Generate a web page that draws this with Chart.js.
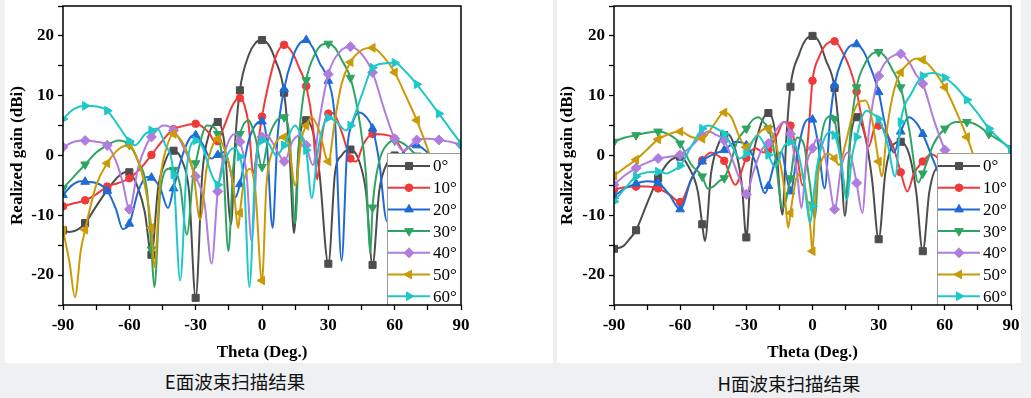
<!DOCTYPE html>
<html>
<head>
<meta charset="utf-8">
<script src="https://cdn.jsdelivr.net/npm/chart.js@4.4.1/dist/chart.umd.min.js"></script>
<style>
  html, body { margin: 0; padding: 0; }
  body { width: 1031px; height: 398px; background: #eef0f2; position: relative; overflow: hidden; }
  canvas { position: absolute; top: 0; background: #fff; }
  #cE { left: 5px; }
  #cH { left: 557px; }
  .cap { position: absolute; font-family: "Noto Sans CJK SC"; font-size: 18.5px; line-height: 22px; color: #111; white-space: nowrap; transform: translateX(-50%); }
</style>
</head>
<body>
<canvas id="cE" width="548" height="363"></canvas>
<canvas id="cH" width="464" height="363"></canvas>
<div class="cap" style="left:235px;top:370px">E面波束扫描结果</div>
<div class="cap" style="left:789px;top:372px">H面波束扫描结果</div>
<script>
// series labels / look
const seriesNames = ['0°', '10°', '20°', '30°', '40°', '50°', '60°'];
const seriesColors = ['#4d4d4d', '#f03a3a', '#1f6bd6', '#2fa462', '#b07ddf', '#cc9a06', '#1ec8c8'];
const markerStyles = ['rect', 'circle', 'triangle', 'triangle', 'rectRot', 'triangle', 'triangle'];
const markerRotations = [0, 0, 0, 180, 0, 270, 90];
const markerSizes = [5, 3.8, 5, 5, 5, 5, 5];

// E-plane, [theta, gain dBi]
const eGain0 = [[-90,-12.5],[-87,-12.8],[-83,-12.3],[-80,-11.3],[-75,-8.5],[-70,-5.8],[-65,-3.5],[-61,-2.7],[-60,-2.8],[-56,-5.5],[-53,-9.5],[-50,-16.6],[-47,-5.5],[-44,-1.2],[-41,0.8],[-40,0.8],[-36,-1],[-33,-6],[-30,-23.8],[-27,-3],[-24,3.5],[-20,5.6],[-17,2],[-14,-11.5],[-12,3],[-10,10.9],[-6,16.8],[-3,18.8],[0,19.3],[3,18.5],[6,16],[10,10.5],[12.5,0],[14.5,-13],[16.5,1],[20,5.9],[23,4],[26,-3],[30,-18.1],[33,-3],[36,0],[40,1.0],[44,-1],[47,-6],[50,-18.3],[53,-6],[57,-1],[60,0],[65,-3],[70,-10],[75,-3],[80,-1.5],[85,-3],[90,-4]];
const eGain10 = [[-90,-8.5],[-85,-8],[-80,-7.5],[-75,-6.5],[-70,-5.2],[-65,-4.6],[-60,-3.8],[-55,-2.2],[-50,0.1],[-45,2.5],[-40,4.4],[-35,5.0],[-30,5.3],[-24,3.8],[-21,2.2],[-20,2.4],[-17,5],[-13,8.6],[-10,9.6],[-8,8.5],[-6,5],[-4,-3],[-2,1.5],[0,6.5],[3,12],[6,16.3],[10,18.5],[14,17],[17,14.5],[20,11.6],[23,5],[25,-4],[27,3],[30,7.0],[32,7.1],[36,4],[40,-0.5],[42.5,-1],[46,2],[50,3.6],[55,3.5],[60,2.8],[65,0],[70,-2],[80,-1],[90,-2]];
const eGain20 = [[-90,-6.6],[-86,-5],[-82,-4.3],[-80,-4.4],[-75,-4.6],[-70,-5.9],[-66,-9],[-63,-12.3],[-60,-11.4],[-56,-6],[-52,-3.6],[-50,-3.7],[-46,-5.5],[-42.5,-8.8],[-40,-5.5],[-36,0],[-32,3.2],[-30,3.4],[-27,2],[-23,-0.5],[-20,0.1],[-17,0.6],[-14,-3],[-12,-7],[-10,-4.8],[-6,2.5],[-2,5.5],[0,5.7],[2,3],[4.8,-12.1],[7,3],[10,11.1],[14,16.5],[17,18.7],[20,19.3],[23,18],[26,15.5],[30,12.5],[33,6],[36,-17.6],[38.5,1],[41,5.5],[44,7.2],[47,6.5],[50,4.5],[53,-1],[56.5,-11],[60,-3],[65,1],[70,1.7],[75,0.5],[80,-1],[90,-3]];
const eGain30 = [[-90,-5.5],[-85,-3.5],[-80,-1.5],[-75,0.5],[-70,1.7],[-65,2.5],[-60,1.8],[-56,-1],[-52,-6],[-50,-15.7],[-48.7,-22],[-46,-6],[-42,-2.2],[-40,-2.4],[-37,-5],[-34,-13.2],[-31,-3],[-30,-1.3],[-27,3.5],[-25,5.0],[-22,4.8],[-20,3.6],[-17.5,-2],[-15.2,-16],[-13,-2],[-10,3.6],[-6.2,5.9],[-3,3],[0,-1.9],[3,3],[7,6],[10,6.4],[12.5,3],[15,-11.3],[17,4],[20,12.6],[24,17],[27,18.5],[30,18.7],[33,18],[36,16],[40,13.0],[44,6],[47,-3],[49,-16.2],[50,-8.7],[53,-1],[57,2],[60,2.5],[64,2],[70,0],[80,-3],[90,-5]];
const eGain40 = [[-90,1.4],[-85,2.3],[-80,2.5],[-75,2.3],[-70,1.7],[-66,-1],[-63,-4.5],[-60,-9],[-56,-2],[-52,2],[-50,3.1],[-46,4.8],[-44,5.0],[-40,4.2],[-35,1],[-30,-3.5],[-26,-8],[-22.8,-18.1],[-20,-6],[-16,1.5],[-12.2,3.6],[-10,2.3],[-7,-3],[-4.7,-14.3],[-2,1],[0,3.1],[2,3.5],[5,2],[8,0],[10,-1.0],[14,2.5],[17.5,3.4],[20,1.7],[23,-1.6],[26,6],[30,13.6],[35,17.3],[40,18.2],[45,17],[50,13.9],[55,8],[60,2.8],[64,0.8],[70,2.6],[75,2.8],[80,2.6],[85,2.3],[90,1.8]];
const eGain50 = [[-90,-12.5],[-87,-18],[-84.6,-23.7],[-82,-16],[-80,-12.4],[-75,-5],[-70,-1.3],[-65,1],[-60,1.7],[-57,0],[-53,-5],[-50,-12.1],[-48.7,-18.7],[-46,-4],[-43,1.5],[-40,3.6],[-35,1.5],[-31,-3],[-28,-10.7],[-25,-2],[-22,2],[-20,2.8],[-16,0],[-13,-5],[-10.7,-12.1],[-10,-9.6],[-8,-4],[-5.4,-2.2],[-3,-6],[0,-20.9],[2,-5],[5,1],[10,3.1],[12,2],[15,-5],[18,3],[20,5.0],[22.5,6.4],[26,4],[30,-1.0],[33,6],[36,12],[40,15.6],[45,17.6],[50,18.0],[55,16.5],[60,13.9],[65,10],[70,5.9],[75,1],[80,-4],[85,-6],[90,-8]];
const eGain60 = [[-90,6.1],[-85,7.8],[-80,8.3],[-75,8.2],[-70,7.5],[-65,5],[-60,2.4],[-57.5,1.7],[-53,3.5],[-50,4.2],[-47.5,4.5],[-44,2],[-40,-3.2],[-37,-20.9],[-34,-2],[-30,2.5],[-27,1.5],[-23,-3],[-20,-4.9],[-17,-1],[-13,1.2],[-10,-0.2],[-8,-5],[-5.7,-22],[-3,-2],[0,2.5],[3,2],[6.5,0],[10,1.7],[15,5.0],[19,2],[20,0.9],[22.5,-7.1],[25,0],[27,4],[30,6.3],[34,5.5],[38,4.2],[40,5.0],[45,10],[50,14.7],[55,15.4],[60,15.5],[65,14],[70,11.9],[75,9.5],[80,7.0],[85,4.5],[90,2.0]];

// H-plane, [theta, gain dBi]
const hGain0 = [[-90,-15.6],[-86,-15.2],[-83,-14],[-80,-12.5],[-75,-8],[-70,-3.8],[-65,-1],[-60,-0.2],[-56,-2],[-52,-6],[-50,-11.5],[-48.8,-14.3],[-46,-3],[-42,2.5],[-40,3.4],[-38.5,3.6],[-35,1],[-32,-5],[-30,-13.7],[-28,-3],[-24,4.5],[-20,7.1],[-17,4],[-13.6,-9.9],[-12,2],[-10,11.5],[-6,17],[-3,19.4],[0,20.0],[3,19],[6,16],[10,11.3],[12.5,2],[14.7,-10.1],[17,2],[20,6.4],[24,3],[27,-4],[30,-14.0],[33,-3],[36,1.5],[40,2.3],[44,0],[47,-6],[50,-16],[53,-6],[57,-2],[60,-2],[70,-5],[80,-2],[90,-5]];
const hGain10 = [[-90,-5.7],[-85,-5.3],[-80,-5.2],[-75,-5.2],[-70,-5.5],[-65,-6.5],[-60,-7.8],[-55,-4],[-50,-0.8],[-46,0.5],[-43,0],[-40,-0.9],[-35,-4.9],[-30,-0.4],[-26,1.2],[-22,0.5],[-20,0.9],[-16,3.5],[-13,5.6],[-10,5.0],[-7,0],[-4.5,-5],[-2,3],[0,12.5],[3,16.5],[6,18.5],[10,19.1],[14,17],[17,14.5],[20,10.7],[23,5],[25.5,1.5],[28,4.5],[30,5.0],[33,4],[37,1],[40,-2.8],[43,-6.0],[46,-3],[50,-1.0],[54,0.2],[58,-1],[62,-4],[70,-6],[80,-4],[90,-1.3]];
const hGain20 = [[-90,-6.8],[-85,-5.5],[-80,-4.7],[-75,-4.3],[-70,-4.6],[-65,-6.5],[-60,-9.0],[-55,-4],[-50,-1.0],[-45,0.2],[-40,0.9],[-34.6,2.3],[-30,1.7],[-26,-1],[-21.5,-6.3],[-20,-5.1],[-17,-1],[-14,0.6],[-12,-3],[-10,-6.0],[-7,0],[-4,5],[-1.5,6.1],[0,6.0],[2.5,2],[5.5,-5.5],[8,6],[10,11.8],[14,16.5],[17,18.3],[20,18.6],[23,17.5],[26,15],[30,10.6],[33,5],[37,0.5],[40,4],[43.7,6.4],[47,5.5],[50,3.6],[55,-1],[60,-5],[70,-6],[80,-4],[90,-4.4]];
const hGain30 = [[-90,2.3],[-85,3],[-80,3.4],[-75,3.8],[-70,4.0],[-65,3.5],[-60,2.0],[-55,-1.5],[-50,-3.5],[-47.5,-5.5],[-45,-5.2],[-42,-4.2],[-40,-3.8],[-37,-1],[-34,2.5],[-30,4.5],[-27,6.0],[-24.6,6.4],[-22,5.5],[-20,4.5],[-17,0],[-13.6,-8.8],[-10,-3.8],[-7,3],[-4,2],[-1.5,-4],[0,-8.2],[1,-10.5],[3,0],[6,6],[9,6.7],[10,6.1],[12.5,0],[15.5,-6.6],[17,3],[20,11.4],[24,15.5],[27,17],[30,17.3],[33,16.5],[36,14.5],[40,11.4],[44,4],[48,-4.5],[50,-3.0],[55,2],[60,4.5],[65,5.6],[70,5.6],[75,5],[80,3.6],[85,2.5],[90,1.2]];
const hGain40 = [[-90,-4.9],[-85,-3.3],[-80,-2.1],[-75,-1.2],[-70,-0.5],[-65,-0.2],[-60,0.1],[-55,1.5],[-50,3.4],[-47,4.0],[-44,3.5],[-40,2.5],[-36,-1],[-33,-4],[-30,-6.5],[-27,-3],[-23,1],[-20,2.0],[-16,4.5],[-13,5.6],[-10,3.6],[-7,-3],[-5,-8.8],[-3,-2],[0,1.2],[2,2.8],[5,1],[7.5,-4],[10,-9.0],[13,-2],[16,0.5],[18,-1],[20,-4.6],[22.6,-9.6],[25,2],[27,8],[30,13.3],[34,16],[38,16.9],[40,17.0],[44,15.5],[47,13.5],[50,12.0],[55,6],[60,0.9],[65,-3],[70,-6],[80,-3],[90,-5.8]];
const hGain50 = [[-90,-3.4],[-85,-2],[-80,-0.7],[-75,1],[-70,2.7],[-65,3.6],[-60,4.0],[-55,3.1],[-50,2.8],[-45,5],[-40,7.2],[-37,6.5],[-33,3],[-30,1.4],[-27,2.5],[-23,4.2],[-20,4.5],[-16,1],[-13,-5],[-11,-12.1],[-10,-9.6],[-7.5,-4],[-5.4,-3.0],[-3,-6],[-1,-12],[0,-16],[1.5,-6],[4,-1],[7.3,0.3],[10,-0.5],[12,-1.6],[15,2],[18,6.5],[21,8.9],[24,9.2],[27,6],[30,-1.0],[31.4,-3.5],[34,5],[37,11],[40,13.9],[44,15.6],[47,16.2],[50,16.0],[55,14.2],[60,11.4],[65,7.5],[70,3.1],[75,-2],[80,-6],[90,-10]];
const hGain60 = [[-90,-7.7],[-85,-5.5],[-80,-3.5],[-75,-2.8],[-70,-2.7],[-66,-3.0],[-63,-2.5],[-60,-1.7],[-55,1.5],[-50,4.5],[-47,5.0],[-44,4.6],[-40,3.6],[-36,1.2],[-33,-0.5],[-30,0.3],[-25,3.4],[-22,2],[-20,0.1],[-17,-1.9],[-13,1.5],[-10,2.3],[-7,1],[-4,-4],[-1,-11.2],[0,-8.5],[2,-2],[5,2.5],[7.6,3.9],[10,3.4],[13,-1],[15.5,-7.4],[18,0],[20,3.1],[22,6],[24.5,7.5],[27,7],[30,6.1],[34,2],[37.5,-3.5],[40,5.6],[45,10.5],[50,13.3],[55,13.8],[60,13.0],[65,11.5],[70,9.3],[75,7],[80,4.5],[85,2.7],[90,0.9]];

const ePlane = [eGain0, eGain10, eGain20, eGain30, eGain40, eGain50, eGain60];
const hPlane = [hGain0, hGain10, hGain20, hGain30, hGain40, hGain50, hGain60];

const serif = '"Liberation Serif", "Times New Roman", serif';

function buildDatasets(list) {
    return list.map(function (pts, i) {
        return {
            label: seriesNames[i],
            data: pts.map(p => ({ x: p[0], y: p[1] })),
            borderColor: seriesColors[i],
            backgroundColor: seriesColors[i],
            borderWidth: 2,
            cubicInterpolationMode: 'monotone',
            pointStyle: markerStyles[i],
            pointRotation: markerRotations[i],
            pointRadius: c => (c.raw && c.raw.x % 10 === 0) ? markerSizes[i] : 0,
            pointBorderWidth: 1,
            pointBorderColor: seriesColors[i],
            pointBackgroundColor: seriesColors[i],
            pointHoverRadius: 0,
            order: 6 - i
        };
    });
}

function drawMarker(ctx, i, x, y) {
    ctx.fillStyle = seriesColors[i];
    ctx.strokeStyle = seriesColors[i];
    ctx.lineWidth = 1;
    Chart.helpers.drawPoint(ctx, {
        pointStyle: markerStyles[i],
        rotation: markerRotations[i],
        radius: markerSizes[i],
        borderWidth: 1
    }, x, y);
}

function makeChart(id, list, yWidth, padRight, yTitleX) {
    const ctx = document.getElementById(id).getContext('2d');
    const tickFont = { family: serif, size: 17, weight: 'bold' };

    return new Chart(ctx, {
        type: 'line',
        data: { datasets: buildDatasets(list) },
        options: {
            responsive: false,
            animation: false,
            layout: { padding: { left: 0, top: 3, right: padRight, bottom: 0 } },
            scales: {
                x: {
                    type: 'linear',
                    min: -90,
                    max: 90,
                    ticks: {
                        stepSize: 15,
                        autoSkip: false,
                        maxRotation: 0,
                        padding: 5,
                        color: '#000',
                        font: tickFont,
                        callback: v => v % 30 === 0 ? String(v) : ''
                    },
                    grid: { drawOnChartArea: false, tickLength: 5, tickColor: '#000', tickWidth: 1.3 },
                    border: { display: false },
                    afterFit: function (s) { s.height = 58; s.paddingLeft = 0; s.paddingRight = 0; }
                },
                y: {
                    min: -25,
                    max: 25,
                    ticks: {
                        stepSize: 5,
                        padding: 4,
                        color: '#000',
                        font: tickFont,
                        callback: v => (v % 10 === 0 && Math.abs(v) < 25) ? String(v) : ''
                    },
                    grid: { drawOnChartArea: false, tickLength: 5, tickColor: '#000', tickWidth: 1.3 },
                    border: { display: false },
                    afterFit: function (s) { s.width = yWidth; s.paddingTop = 0; s.paddingBottom = 0; }
                }
            },
            plugins: {
                legend: { display: false },
                tooltip: { enabled: false }
            }
        },
        plugins: [{
            id: 'boxLegend',
            afterDatasetsDraw: function (chart) {
                const c = chart.ctx;
                const a = chart.chartArea;
                const left = a.right - 74;
                const top = a.top + 147;
                c.save();
                c.fillStyle = '#fff';
                c.fillRect(left, top, a.right - left, a.bottom - top);
                c.strokeStyle = '#9a9a9a';
                c.lineWidth = 1;
                c.beginPath();
                c.moveTo(left + 0.5, a.bottom);
                c.lineTo(left + 0.5, top + 0.5);
                c.lineTo(a.right, top + 0.5);
                c.stroke();
                seriesNames.forEach(function (name, i) {
                    const y = top + 13 + i * 21.7;
                    c.strokeStyle = seriesColors[i];
                    c.lineWidth = 2;
                    c.beginPath();
                    c.moveTo(left + 1, y);
                    c.lineTo(left + 43, y);
                    c.stroke();
                    drawMarker(c, i, left + 22, y);
                    c.fillStyle = '#000';
                    c.font = '17px ' + serif;
                    c.textBaseline = 'middle';
                    c.textAlign = 'left';
                    c.fillText(name, left + 46, y + 1);
                });
                c.restore();
            },
            afterDraw: function (chart) {
                const c = chart.ctx;
                const a = chart.chartArea;
                c.save();
                c.strokeStyle = '#000';
                c.lineWidth = 1.5;
                c.strokeRect(a.left, a.top, a.right - a.left, a.bottom - a.top);
                c.fillStyle = '#000';
                c.font = 'bold 17px ' + serif;
                c.textAlign = 'center';
                c.textBaseline = 'middle';
                c.fillText('Theta (Deg.)', (a.left + a.right) / 2, 353);
                c.translate(yTitleX, (a.top + a.bottom) / 2);
                c.rotate(-Math.PI / 2);
                c.fillText('Realized gain (dBi)', 0, 0);
                c.restore();
            }
        }]
    });
}

document.addEventListener('DOMContentLoaded', function () {
    makeChart('cE', ePlane, 58, 92, 12.5);
    makeChart('cH', hPlane, 57, 10, 11);
});
</script>
</body>
</html>
